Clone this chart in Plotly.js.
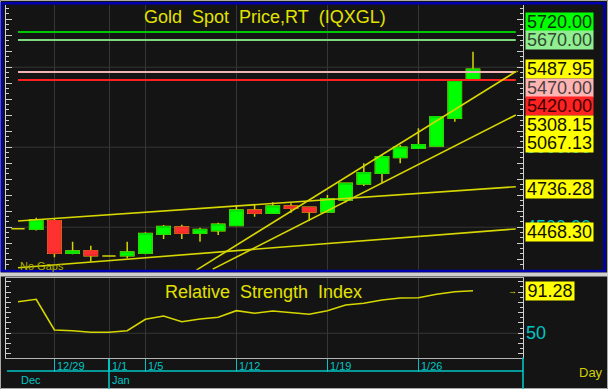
<!DOCTYPE html>
<html><head><meta charset="utf-8">
<script src="https://cdn.plot.ly/plotly-3.0.1.min.js"></script>
<style>html,body{margin:0;padding:0;background:#141414;overflow:hidden}#chart{width:608px;height:389px}</style>
</head><body><div id="chart"></div><script>
// ---------------- data ----------------
const dates = ["12/25","12/26","12/29","12/30","12/31","1/1","1/2","1/5","1/6","1/7","1/8","1/9","1/12","1/13","1/14","1/15","1/16","1/19","1/20","1/21","1/22","1/23","1/26","1/27","1/28","1/29"];
const openP  = [4490,4487,4541,4337,4353,4320,4322,4337,4456,4501,4462,4478,4510,4607,4587,4632,4624,4595,4670,4770,4837,4935,4993,5007,5181,5424];
const highP  = [4490,4559,4556,4409,4384,4320,4409,4468,4514,4516,4497,4528,4639,4645,4656,4650,4627,4701,4778,4900,4951,5014,5118,5195,5416,5597];
const lowP   = [4490,4480,4312,4331,4284,4320,4306,4331,4426,4426,4409,4451,4508,4566,4587,4591,4539,4595,4654,4757,4774,4899,4990,5004,5159,5424];
const closeP = [4490,4545,4337,4351,4322,4320,4345,4460,4504,4462,4485,4518,4607,4587,4632,4618,4595,4678,4774,4841,4941,5000,5016,5191,5416,5487.95];
const rsi    = [80.6,83.0,53.2,52.5,51.0,51.0,52.5,63.6,66.8,61.2,63.9,65.5,71.9,69.4,71.6,70.3,68.4,71.9,77.4,79.1,82.3,84.2,84.5,87.8,90.3,91.28];

const levelValues = [5720, 5670, 5470, 5420];
const levelX = [0, 27.35];
const longUpperX = [0, 27.35],   longUpperY = [4539, 4753];
const longLowerX = [0, 27.35],   longLowerY = [4247, 4489];
const steepUpperX = [9.8, 27.35], steepUpperY = [4232, 5472];
const steepLowerX = [10.7, 27.35], steepLowerY = [4238, 5201];
const trendLabels = [5308.15, 5067.13, 4736.28, 4468.30];
const axisLabelValues = [5000, 4500];
const priceGrid = [4500, 5000, 5500];
const rsiGrid = [50];
const tickDates = ["12/29","1/1","1/5","1/12","1/19","1/26"];
const monthNames = ["Dec","Jan"];
const monthStartDates = ["12/25","1/1"];

// ---------------- layout constants (pixels) ----------------
const W = 608, H = 389;
const PL = 6, PR = 523;          // plot left / right
const T1 = 5, B1 = 270;          // price panel top / bottom
const T2 = 278, B2 = 357.5;      // RSI panel top / bottom
const xRange = [(PL - 18) / 18.2, (PR - 18) / 18.2];
const yRange = [4232.5, 5888.75];
const rRange = [26.5, 103.6];
const px = x => x / W, py = y => 1 - y / H;

const idx = dates.map((d, i) => i);
const tickIdx = tickDates.map(d => dates.indexOf(d));
const last = dates.length - 1;

const YEL = '#d6d600', CYAN = '#00c4c4', GRID = '#363636', AX = '#cfcfcf';
const FONT = 'Liberation Sans, Arial, sans-serif';
const NARROW = 'Liberation Sans Narrow, Arial Narrow, Liberation Sans, Arial, sans-serif';

// ---------------- traces ----------------
const traces = [];
traces.push({
  type: 'candlestick', x: idx, open: openP, high: highP, low: lowP, close: closeP,
  xaxis: 'x', yaxis: 'y', whiskerwidth: 0, hoverinfo: 'skip', showlegend: false,
  increasing: {line: {color: '#d4d400', width: 1.5}, fillcolor: '#00ff00'},
  decreasing: {line: {color: '#d4d400', width: 1.5}, fillcolor: '#ff3030'}
});
const bodyIdx = idx.filter(i => openP[i] !== closeP[i]);
traces.push({
  type: 'candlestick', x: bodyIdx,
  open: bodyIdx.map(i => openP[i]), close: bodyIdx.map(i => closeP[i]),
  high: bodyIdx.map(i => Math.max(openP[i], closeP[i])), low: bodyIdx.map(i => Math.min(openP[i], closeP[i])),
  xaxis: 'x', yaxis: 'y', whiskerwidth: 0, hoverinfo: 'skip', showlegend: false,
  increasing: {line: {color: '#00dd00', width: 1}, fillcolor: '#00ff00'},
  decreasing: {line: {color: '#ee2a2a', width: 1}, fillcolor: '#ff3030'}
});
const levelColors = ['#00c800', '#7ed87e', '#f0b4b4', '#ff2020'];
levelValues.forEach((v, k) => traces.push({
  type: 'scatter', mode: 'lines', x: levelX, y: [v, v], xaxis: 'x', yaxis: 'y',
  line: {color: levelColors[k], width: 2}, hoverinfo: 'skip', showlegend: false
}));
[[longUpperX, longUpperY], [longLowerX, longLowerY], [steepUpperX, steepUpperY], [steepLowerX, steepLowerY]].forEach(([xs, ys]) =>
  traces.push({type: 'scatter', mode: 'lines', x: xs, y: ys, xaxis: 'x', yaxis: 'y',
    line: {color: YEL, width: 1.6}, hoverinfo: 'skip', showlegend: false}));
traces.push({type: 'scatter', mode: 'lines', x: idx, y: rsi, xaxis: 'x2', yaxis: 'y2',
  line: {color: YEL, width: 1.6}, hoverinfo: 'skip', showlegend: false});

// ---------------- shapes ----------------
const shapes = [];
priceGrid.forEach(v => shapes.push({type: 'line', xref: 'paper', yref: 'y', x0: px(PL), x1: px(PR), y0: v, y1: v,
  line: {color: GRID, width: 1}, layer: 'below'}));
rsiGrid.forEach(v => shapes.push({type: 'line', xref: 'paper', yref: 'y2', x0: px(PL), x1: px(PR), y0: v, y1: v,
  line: {color: GRID, width: 1}, layer: 'below'}));
shapes.push({type: 'rect', xref: 'paper', yref: 'paper', x0: px(0.5), x1: px(607.5), y0: py(388.5), y1: py(0.5),
  line: {color: '#a8a8a8', width: 1}});
shapes.push({type: 'rect', xref: 'paper', yref: 'paper', x0: px(1.8), x1: px(604.5), y0: py(271), y1: py(3.2),
  line: {color: '#0000b0', width: 2.6}});
shapes.push({type: 'rect', xref: 'paper', yref: 'paper', x0: px(0), x1: px(608), y0: py(276.5), y1: py(272.6),
  line: {width: 0}, fillcolor: '#cfcfcf'});
shapes.push({type: 'line', xref: 'paper', yref: 'paper', x0: px(PL + 1), x1: px(PR), y0: py(371), y1: py(371),
  line: {color: CYAN, width: 1.6}});
shapes.push({type: 'line', xref: 'paper', yref: 'paper', x0: px(PR), x1: px(PR), y0: py(B2), y1: py(389),
  line: {color: CYAN, width: 1.6}});
shapes.push({type: 'line', xref: 'x2', yref: 'paper', x0: dates.indexOf(monthStartDates[1]), x1: dates.indexOf(monthStartDates[1]),
  y0: py(371), y1: py(389), line: {color: CYAN, width: 1.6}});

// ---------------- annotations ----------------
const ann = [];
ann.push({xref: 'paper', yref: 'paper', x: px(264.5), y: py(16.5), text: 'Gold\u00a0 Spot\u00a0 Price,RT\u00a0 (IQXGL)',
  showarrow: false, font: {family: FONT, size: 18, color: '#e2e200'}, xanchor: 'center', yanchor: 'middle'});
ann.push({xref: 'paper', yref: 'paper', x: px(18), y: py(265.5), text: 'No Gaps', showarrow: false,
  font: {family: FONT, size: 11, color: '#b0b000'}, xanchor: 'left', yanchor: 'middle'});
ann.push({xref: 'paper', yref: 'paper', x: px(263.5), y: py(291.5), text: 'Relative\u00a0 Strength\u00a0 Index',
  showarrow: false, font: {family: FONT, size: 18, color: '#e2e200'}, xanchor: 'center', yanchor: 'middle'});

// hidden axis labels (mostly covered)
axisLabelValues.forEach(v => ann.push({xref: 'paper', yref: 'y', x: px(524), y: v, text: v.toFixed(2),
  showarrow: false, xanchor: 'left', yanchor: 'middle', font: {family: FONT, size: 18, color: CYAN}}));

// value labels with de-overlap (anchor = last price)
const pxPerUnit = (B1 - T1) / (yRange[1] - yRange[0]);
const vToPx = v => T1 + (yRange[1] - v) * pxPerUnit;
const lastPrice = closeP[last];
const labels = [
  {v: levelValues[0], bg: '#00ff00', fg: '#0a300a'},
  {v: levelValues[1], bg: '#90ee90', fg: '#2f4a2f'},
  {v: lastPrice, bg: '#ffff00', fg: '#111100', anchor: true},
  {v: levelValues[2], bg: '#ffb4b4', fg: '#4a4040'},
  {v: levelValues[3], bg: '#ff2222', fg: '#3a0000'},
].concat(trendLabels.map(v => ({v: v, bg: '#ffff00', fg: '#111100'})));
const LH = 18.5;
const aPx = vToPx(lastPrice);
labels.forEach(l => l.p = vToPx(l.v));
const above = labels.filter(l => l.v > lastPrice).sort((a, b) => a.v - b.v);
let prev = aPx;
above.forEach(l => { l.p = Math.min(l.p, prev - LH); prev = l.p; });
const below = labels.filter(l => l.v < lastPrice).sort((a, b) => b.v - a.v);
prev = aPx;
below.forEach(l => { l.p = Math.max(l.p, prev + LH); prev = l.p; });
labels.forEach(l => ann.push({xref: 'paper', yref: 'paper', x: px(525), y: py(l.p), text: l.v.toFixed(2),
  showarrow: false, xanchor: 'left', yanchor: 'middle', width: 67, height: 18, borderpad: 0, bgcolor: l.bg,
  font: {family: FONT, size: 18, color: l.fg}}));
ann.push({xref: 'paper', yref: 'y', x: px(515), y: lastPrice, text: '→', showarrow: false, xanchor: 'center', yanchor: 'middle',
  font: {family: FONT, size: 10, color: YEL}});

// RSI labels
ann.push({xref: 'paper', yref: 'y2', x: px(525), y: rsi[last], text: rsi[last].toFixed(2), showarrow: false,
  xanchor: 'left', yanchor: 'middle', width: 48, height: 18, borderpad: 0, bgcolor: '#ffff00',
  font: {family: FONT, size: 18, color: '#111100'}});
ann.push({xref: 'paper', yref: 'y2', x: px(524), y: 50, text: '50', showarrow: false, xanchor: 'left', yanchor: 'middle',
  font: {family: FONT, size: 18, color: CYAN}});
ann.push({xref: 'paper', yref: 'y2', x: px(512), y: rsi[last], text: '→', showarrow: false, xanchor: 'center', yanchor: 'middle',
  font: {family: FONT, size: 9, color: YEL}});

// date axis labels
tickDates.forEach((d, k) => ann.push({xref: 'x2', yref: 'paper', x: tickIdx[k], y: py(366), text: d, showarrow: false,
  xanchor: 'left', yanchor: 'middle', xshift: 1, font: {family: NARROW, size: 11, color: CYAN}}));
monthNames.forEach((m, k) => ann.push({xref: 'x2', yref: 'paper', x: dates.indexOf(monthStartDates[k]), y: py(379.5), text: m,
  showarrow: false, xanchor: 'left', yanchor: 'middle', xshift: 1, font: {family: NARROW, size: 11, color: CYAN}}));
ann.push({xref: 'paper', yref: 'paper', x: px(577), y: py(372.5), text: 'Day', showarrow: false, xanchor: 'left', yanchor: 'middle',
  font: {family: NARROW, size: 13, color: '#d0d000'}});

// ---------------- layout ----------------
const layout = {
  width: W, height: H, margin: {l: 0, r: 0, t: 0, b: 0},
  paper_bgcolor: '#141414', plot_bgcolor: '#141414',
  showlegend: false, boxgap: 0.27, boxgroupgap: 0, boxmode: 'overlay',
  xaxis: {domain: [px(PL), px(PR)], range: xRange, anchor: 'y', tickmode: 'array', tickvals: tickIdx,
    showticklabels: false, ticks: '', showgrid: true, gridcolor: GRID, gridwidth: 1, zeroline: false, showline: false,
    rangeslider: {visible: false}, fixedrange: true},
  yaxis: {domain: [py(B1), py(T1)], range: yRange, anchor: 'x', side: 'right', showline: true, linecolor: AX, linewidth: 1,
    mirror: 'ticks', ticks: 'inside', ticklen: 6, tickcolor: AX, tickwidth: 1, tick0: 0, dtick: 100,
    showticklabels: false, showgrid: false, zeroline: false, fixedrange: true,
    minor: {tick0: 0, dtick: 100 / 3, ticks: 'inside', ticklen: 3, tickcolor: AX, showgrid: false}},
  xaxis2: {domain: [px(PL), px(PR)], range: xRange, anchor: 'y2', tickmode: 'array', tickvals: tickIdx,
    showticklabels: false, ticks: 'outside', ticklen: 13, tickwidth: 1.6, tickcolor: CYAN,
    showgrid: true, gridcolor: GRID, zeroline: false, showline: true, linecolor: '#b4b4b4', mirror: true, fixedrange: true},
  yaxis2: {domain: [py(B2), py(T2)], range: rRange, anchor: 'x2', side: 'right', showline: true, linecolor: AX,
    mirror: 'ticks', ticks: 'inside', ticklen: 5, tickcolor: AX, tick0: 0, dtick: 10,
    showticklabels: false, showgrid: false, zeroline: false, fixedrange: true,
    minor: {tick0: 0, dtick: 5, ticks: 'inside', ticklen: 3, tickcolor: AX, showgrid: false}},
  shapes: shapes, annotations: ann
};
Plotly.newPlot('chart', traces, layout, {staticPlot: true, displayModeBar: false});
</script></body></html>
